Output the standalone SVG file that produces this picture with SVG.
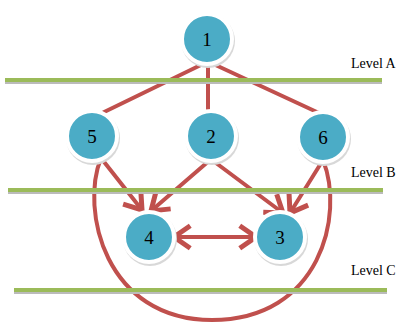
<svg xmlns="http://www.w3.org/2000/svg" width="411" height="323" viewBox="0 0 411 323">
<style>
.lvl{stroke:#9BBB59;stroke-width:4;fill:none}
.lvls{stroke:#BBBBBB;stroke-width:2;fill:none}
.edge{stroke:#C0504D;stroke-width:4;fill:none;stroke-linecap:round}
.nshadow{fill:#D8D8D8}
.node{fill:#4BACC6;stroke:#FFFFFF;stroke-width:4}
.num{font-family:"Liberation Serif",serif;font-size:19px;fill:#000;text-anchor:middle}
.lab{font-family:"Liberation Serif",serif;font-size:14px;fill:#000}
</style>
<defs>
<marker id="ah" markerUnits="userSpaceOnUse" markerWidth="30" markerHeight="30" viewBox="-16 -12 20 24" refX="0" refY="0" orient="auto-start-reverse">
<path d="M-13,-9 L0,0 L-13,9" fill="none" stroke="#C0504D" stroke-width="4" stroke-linejoin="miter"/>
</marker>
</defs>
<rect width="411" height="323" fill="#FFFFFF"/>
<g id="connectors">
<line class="edge" x1="207" y1="62" x2="98" y2="115"/>
<line class="edge" x1="208" y1="62" x2="208" y2="111"/>
<line class="edge" x1="209" y1="62" x2="319" y2="113"/>
<path class="edge" d="M101,158 C80,210 105,320 212,320 C320,320 345,215 323,160"/>
<line class="edge" x1="101" y1="158" x2="142" y2="210" marker-end="url(#ah)"/>
<line class="edge" x1="210" y1="160" x2="151" y2="211" marker-end="url(#ah)"/>
<line class="edge" x1="212" y1="160" x2="283" y2="213" marker-end="url(#ah)"/>
<line class="edge" x1="323" y1="160" x2="290" y2="213" marker-end="url(#ah)"/>
<line class="edge" x1="174" y1="237" x2="256" y2="237" marker-start="url(#ah)" marker-end="url(#ah)"/>
</g>
<g id="levels">
<line class="lvls" x1="5" y1="83" x2="382" y2="83"/>
<line class="lvl" x1="5" y1="80" x2="382" y2="80"/>
<line class="lvls" x1="8" y1="193" x2="383" y2="193"/>
<line class="lvl" x1="8" y1="190" x2="383" y2="190"/>
<line class="lvls" x1="14" y1="293" x2="387" y2="293"/>
<line class="lvl" x1="14" y1="290" x2="387" y2="290"/>
<text class="lab" x="351" y="68">Level A</text>
<text class="lab" x="351" y="177">Level B</text>
<text class="lab" x="351" y="275">Level C</text>
</g>
<g id="node1"><circle class="nshadow" cx="208" cy="41" r="27"/><circle class="node" cx="207" cy="39" r="25"/><text class="num" x="207" y="46">1</text></g>
<g id="node5"><circle class="nshadow" cx="93" cy="138" r="27"/><circle class="node" cx="92" cy="136" r="25"/><text class="num" x="92" y="143">5</text></g>
<g id="node2"><circle class="nshadow" cx="212" cy="138" r="27"/><circle class="node" cx="211" cy="136" r="25"/><text class="num" x="211" y="143">2</text></g>
<g id="node6"><circle class="nshadow" cx="324" cy="139" r="27"/><circle class="node" cx="323" cy="137" r="25"/><text class="num" x="323" y="144">6</text></g>
<g id="node4"><circle class="nshadow" cx="150" cy="239" r="27"/><circle class="node" cx="149" cy="237" r="25"/><text class="num" x="149" y="244">4</text></g>
<g id="node3"><circle class="nshadow" cx="281" cy="239" r="27"/><circle class="node" cx="280" cy="237" r="25"/><text class="num" x="280" y="244">3</text></g>
</svg>
